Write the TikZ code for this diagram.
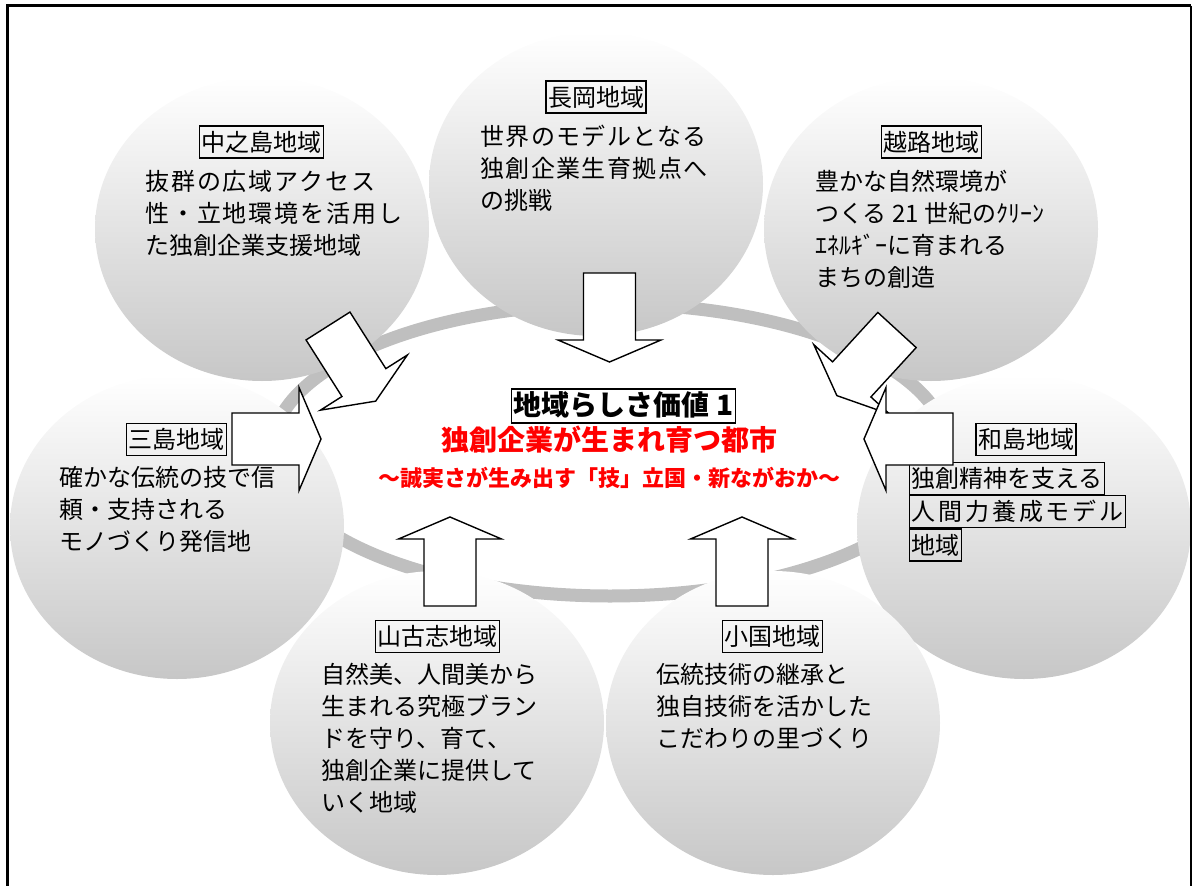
\documentclass[tikz,border=0pt]{standalone}
\usepackage{fontspec}
\setmainfont{Noto Sans CJK JP}
\usetikzlibrary{shapes.geometric}

\begin{document}
\begin{tikzpicture}
[
	x=1pt, y=-1pt,
	region/.style={ellipse,minimum width=334pt,minimum height=304pt,inner sep=0pt,top color=white,bottom color=black!22},
	tag/.style={draw,line width=1.2pt,inner xsep=2pt,inner ysep=3pt,text height=22pt,text depth=4pt,font=\fontsize{24}{32}\selectfont},
	body/.style={anchor=north west,inner sep=0pt,align=left,font=\fontsize{24}{32}\selectfont,execute at begin node=\rule{0pt}{22pt}},
	ring/.style={draw=black!25,line width=13pt},
	motto/.style={text=red,anchor=base,inner sep=0pt},
	blockarrow/.pic={\draw[fill=white,line width=1.4pt,line join=miter] (0,-26) -- (67,-26) -- (67,-51.5) -- (89,0) -- (67,51.5) -- (67,26) -- (0,26) -- cycle;}
]

	\useasboundingbox (0,0) rectangle (1192,886);

	\draw[ring] (610,450) ellipse [x radius=338pt,y radius=146pt];

	\node[region] (nagaoka) at (596,184) {};
	\node[region] (nakanoshima) at (262,229) {};
	\node[region] (koshiji) at (931,229) {};
	\node[region] (mishima) at (177,527) {};
	\node[region] (washima) at (1024,527) {};
	\node[region] (yamakoshi) at (437,723) {};
	\node[region] (oguni) at (773,723) {};

	\draw[line width=3pt] (7.5,886) -- (7.5,5.5) -- (1191,5.5);
	\draw[line width=1.7pt] (1190.8,5.5) -- (1190.8,886);

	\node[tag] (nagaoka-tag) at (596,97) {長岡地域};
	\node[body] (nagaoka-txt) at (480,125) {{\addfontfeatures{LetterSpace=6}世界のモデルとなる}\\{\addfontfeatures{LetterSpace=6}独創企業生育拠点へ}\\の挑戦};

	\node[tag] (nakanoshima-tag) at (261.5,142) {中之島地域};
	\node[body] (nakanoshima-txt) at (145,170) {{\addfontfeatures{LetterSpace=8}抜群の広域アクセス}\\{\addfontfeatures{LetterSpace=8}性・立地環境を活用し}\\た独創企業支援地域};

	\node[tag] (koshiji-tag) at (931.5,142) {越路地域};
	\node[body] (koshiji-txt) at (815,170) {豊かな自然環境が\\つくる 21 世紀のｸﾘｰﾝ\\ｴﾈﾙｷﾞｰに育まれる\\まちの創造};

	\node[tag] (mishima-tag) at (176.5,439.5) {三島地域};
	\node[body] (mishima-txt) at (59,466) {確かな伝統の技で信\\頼・支持される\\モノづくり発信地};

	\node[tag] (washima-tag) at (1026,439.5) {和島地域};
	\node[tag,anchor=north west] (washima-l1) at (909,462) {独創精神を支える};
	\node[tag,anchor=north west] (washima-l2) at (washima-l1.south west) {\addfontfeatures{LetterSpace=12}人間力養成モデル};
	\node[tag,anchor=north west] (washima-l3) at (washima-l2.south west) {地域};

	\node[tag] (yamakoshi-tag) at (437.5,636.5) {山古志地域};
	\node[body] (yamakoshi-txt) at (321,663) {自然美、人間美から\\生まれる究極ブラン\\ドを守り、育て、\\独創企業に提供して\\いく地域};

	\node[tag] (oguni-tag) at (772.5,636.5) {小国地域};
	\node[body] (oguni-txt) at (656,663) {伝統技術の継承と\\独自技術を活かした\\こだわりの里づくり};

	% arrows into the centre
	\pic[rotate=-90] (nagaoka-arr) at (609.5,273) {blockarrow};
	\pic[rotate=-57.6] (nakanoshima-arr) at (328,326) {blockarrow};
	\pic[rotate=-132.5] (koshiji-arr) at (897,330) {blockarrow};
	\pic (mishima-arr) at (232,439) {blockarrow};
	\pic[rotate=180] (washima-arr) at (953,439) {blockarrow};
	\pic[rotate=90] (yamakoshi-arr) at (450,606) {blockarrow};
	\pic[rotate=90] (oguni-arr) at (742,606) {blockarrow};

	\node[draw,line width=1.3pt,inner xsep=2pt,inner ysep=2.5pt,text height=24pt,text depth=5pt,font=\bfseries\fontsize{28}{32}\selectfont] (title) at (623.5,406) {地域らしさ価値 1};
	\node[motto,font=\bfseries\fontsize{28}{32}\selectfont] (motto) at (609,450) {独創企業が生まれ育つ都市};
	\node[motto,font=\bfseries\fontsize{22}{26}\selectfont] (slogan) at (609,486) {～誠実さが生み出す「技」立国・新ながおか～};

\end{tikzpicture}
\end{document}
